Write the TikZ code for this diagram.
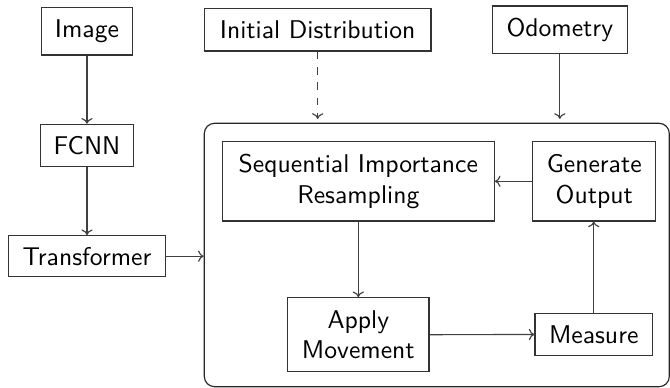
\documentclass[tikz,border=0pt]{standalone}
\usetikzlibrary{arrows.meta}
\begin{document}
\begin{tikzpicture}[x=0.39pt,y=-0.39pt,
  font=\sffamily,
  box/.style={draw=black!80, line width=0.45pt, align=center, inner sep=0pt, text=black},
  arr/.style={draw=black!75, line width=0.45pt, -{To[length=2.2pt,width=4.4pt]}},
  frame/.style={draw=black!85, line width=0.45pt, rounded corners=4pt, inner sep=0pt}]
\useasboundingbox (0,0) rectangle (670,388);
\node[box, minimum width=90.6*0.39pt, minimum height=47.3*0.39pt] (img) at (87,31.3) {Image};
\node[box, minimum width=226.7*0.39pt, minimum height=42.7*0.39pt] (init) at (317.7,29.7) {Initial Distribution};
\node[box, minimum width=135*0.39pt, minimum height=47.3*0.39pt] (odo) at (559.8,29.7) {Odometry};
\node[box, minimum width=92.6*0.39pt, minimum height=42.4*0.39pt] (fcnn) at (87,145.5) {FCNN};
\node[box, minimum width=157.4*0.39pt, minimum height=41*0.39pt] (trans) at (87,256.2) {Transformer};
\node[frame, minimum width=465*0.39pt, minimum height=263.4*0.39pt] (big) at (436.8,255) {};
\node[box, minimum width=272*0.39pt, minimum height=79.3*0.39pt] (sir) at (358.3,181.3) {Sequential Importance\\Resampling};
\node[box, minimum width=123*0.39pt, minimum height=79.3*0.39pt] (gen) at (594.2,181.3) {Generate\\Output};
\node[box, minimum width=141.3*0.39pt, minimum height=74*0.39pt] (app) at (358.3,334.7) {Apply\\Movement};
\node[box, minimum width=117.3*0.39pt, minimum height=42.4*0.39pt] (meas) at (593.7,334.5) {Measure};
\draw[arr] (img.south) -- (fcnn.north);
\draw[arr] (fcnn.south) -- (trans.north);
\draw[arr] (trans.east) -- (trans.east -| big.west);
\draw[arr, dashed, shorten >=1.5pt] (init.south) -- (init.south |- big.north);
\draw[arr, shorten >=1.5pt] (odo.south) -- (odo.south |- big.north);
\draw[arr] (sir.south) -- (app.north);
\draw[arr] (app.east) -- (meas.west);
\draw[arr] (meas.north) -- (meas.north |- gen.south);
\draw[arr] (gen.west) -- (sir.east);
\end{tikzpicture}
\end{document}
